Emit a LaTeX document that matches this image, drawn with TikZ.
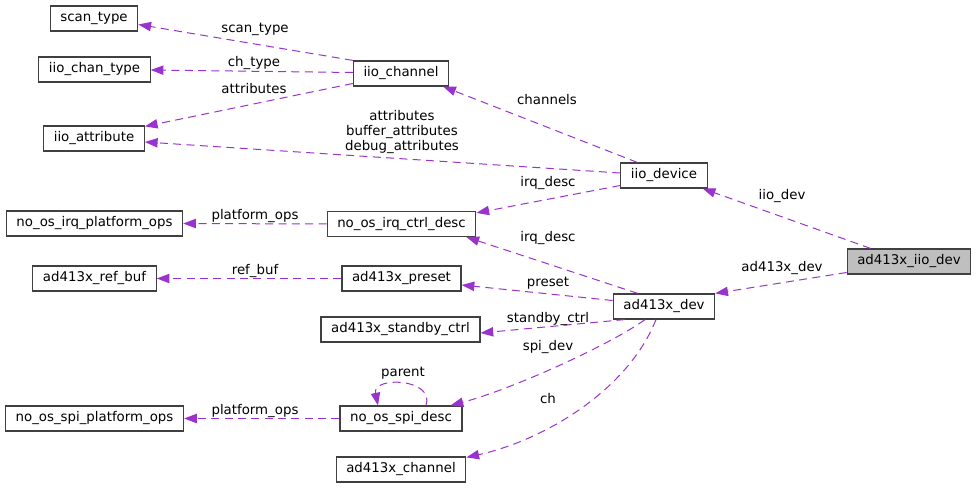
\documentclass[tikz,border=0pt]{standalone}
\usepackage{fontspec}
\setmainfont{DejaVu Sans}
\usetikzlibrary{arrows.meta, calc}
\definecolor{dxEdge}{HTML}{9A32CD}
\definecolor{dxBorder}{HTML}{404040}
\definecolor{dxRoot}{HTML}{BFBFBF}
\tikzset{
  classbox/.style = {draw=dxBorder, line width=0.9pt, fill=white, inner xsep=7.6pt,
                     inner ysep=0pt, minimum height=18.75pt, font=\fontsize{10}{12}\selectfont},
  rootbox/.style  = {classbox, fill=dxRoot},
  member/.style   = {dxEdge, line width=0.75pt, dash pattern=on 6pt off 4pt,
                     -{Triangle[length=9.5pt,width=7pt]}},
  lbl/.style      = {font=\fontsize{10}{11.25}\selectfont, inner sep=0pt, align=center},
}
\begin{document}
\begin{tikzpicture}[x=0.75pt,y=-0.75pt]
  \useasboundingbox (0,0) rectangle (976,488);
  % class boxes
  \node[classbox] (scan)   at (94,18.5)    {scan\_type};
  \node[classbox] (ctype)  at (94.5,69.5)  {iio\_chan\_type};
  \node[classbox] (attr)   at (94,138.5)   {iio\_attribute};
  \node[classbox] (chan)   at (401,73.5)   {iio\_channel};
  \node[classbox] (iiod)   at (664,175.5)  {iio\_device};
  \node[rootbox]  (root)   at (909,261.5)  {ad413x\_iio\_dev};
  \node[classbox] (adev)   at (664,306.5)  {ad413x\_dev};
  \node[classbox] (irqc)   at (401.5,224)  {no\_os\_irq\_ctrl\_desc};
  \node[classbox] (preset) at (401.5,278.5){ad413x\_preset};
  \node[classbox] (irqpo)  at (94.5,223.5) {no\_os\_irq\_platform\_ops};
  \node[classbox] (refbuf) at (94.5,278.5) {ad413x\_ref\_buf};
  \node[classbox] (sctrl)  at (400.5,329.5){ad413x\_standby\_ctrl};
  \node[classbox] (spid)   at (401,418.5)  {no\_os\_spi\_desc};
  \node[classbox] (spipo)  at (94.5,418.5) {no\_os\_spi\_platform\_ops};
  \node[classbox] (ach)    at (401,469.5)  {ad413x\_channel};

  % members of iio_channel
  \draw[member] (chan.north west) -- ($(scan.east)+(0,6)$);
  \node[lbl] (l1) at (255,29) {scan\_type};
  \draw[member] ($(chan.west)+(0,-1)$) -- ($(ctype.east)+(0,0.5)$);
  \node[lbl] (l2) at (254,63) {ch\_type};
  \draw[member] ($(chan.west)+(0,10)$) -- ($(attr.north east)+(0,1)$);
  \node[lbl] (l3) at (254,89) {attributes};

  % members of iio_device
  \draw[member] ($(iiod.west)+(0,-2.5)$) -- ($(attr.east)+(0,3.5)$);
  \node[lbl] (l4) at (402,132) {attributes\\buffer\_attributes\\debug\_attributes};
  \draw[member] ($(iiod.north west)+(17,0)$) -- ($(chan.south east)+(-6,0)$);
  \node[lbl] (l5) at (547,100) {channels};
  \draw[member] ($(iiod.west)+(0,10)$) -- ($(irqc.north east)+(0,2)$);
  \node[lbl] (l6) at (548,183) {irq\_desc};

  % members of ad413x_iio_dev
  \draw[member] ($(root.north west)+(24,0)$) -- ($(iiod.south east)+(-5,0)$);
  \node[lbl] (l7) at (782,196) {iio\_dev};
  \draw[member] ($(root.west)+(0,11)$) -- (adev.north east);
  \node[lbl] (l8) at (782,268) {ad413x\_dev};

  % members of ad413x_dev
  \draw[member] ($(adev.north west)+(25,0)$) -- ($(irqc.south east)+(-10,0)$);
  \node[lbl] (l9) at (548,238) {irq\_desc};
  \draw[member] ($(adev.west)+(0,-6)$) -- ($(preset.east)+(0,6.5)$);
  \node[lbl] (l10) at (548,283) {preset};
  \draw[member] ($(adev.south west)+(12,0)$) -- ($(sctrl.east)+(0,3.5)$);
  \node[lbl] (l11) at (548,319) {standby\_ctrl};
  \draw[member] ($(adev.south)+(-19,0)$) .. controls (610,345) and (510,390) .. ($(spid.north east)+(-12,0)$);
  \node[lbl] (l12) at (548,347) {spi\_dev};
  \draw[member] ($(adev.south)+(-8,0)$) .. controls (628,390) and (545,440) .. ($(ach.north east)+(0,1)$);
  \node[lbl] (l13) at (548,399) {ch};

  % platform ops, buffers, self reference
  \draw[member] (irqc.west) -- (irqpo.east);
  \node[lbl] (l14) at (255,216) {platform\_ops};
  \draw[member] (preset.west) -- (refbuf.east);
  \node[lbl] (l15) at (255,271) {ref\_buf};
  \draw[member] (spid.west) -- (spipo.east);
  \node[lbl] (l16) at (255,411) {platform\_ops};
  \draw[member] ($(spid.north)+(25,0)$) .. controls (435,378) and (372,376) .. ($(spid.north)+(-23,0)$);
  \node[lbl] (l17) at (403,373) {parent};
\end{tikzpicture}
\end{document}
